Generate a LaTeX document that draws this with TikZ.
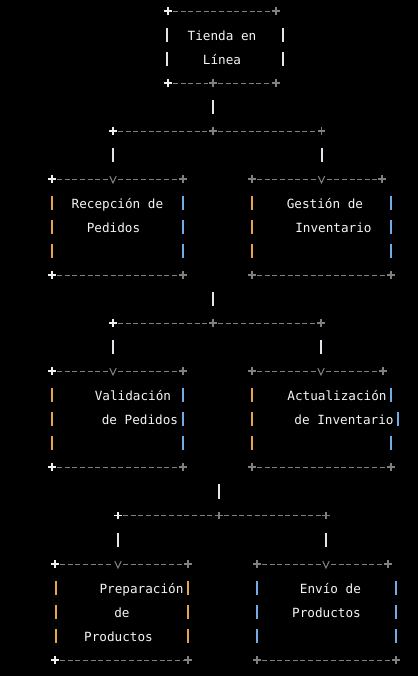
\documentclass[tikz,border=0pt]{standalone}
\usepackage{fontspec}
\newfontfamily\termfont{DejaVu Sans Mono}
\usepackage{xcolor}
\usepackage{tikz}

\definecolor{termbg}{RGB}{0,0,0}
\definecolor{termtext}{RGB}{245,245,245}
\definecolor{dashgrey}{RGB}{128,128,128}
\definecolor{crossgrey}{RGB}{125,128,132}
\definecolor{crosswhite}{RGB}{240,240,240}
\definecolor{pipeorange}{RGB}{228,165,75}
\definecolor{pipeblue}{RGB}{115,172,228}
\definecolor{pipewhite}{RGB}{225,230,236}

\begin{document}
\begin{tikzpicture}[x=0.75pt,y=0.75pt,yscale=-1,xscale=1,
  boxtext/.style={font=\termfont\fontsize{9.5}{11}\selectfont, text=termtext, inner sep=0pt, anchor=base},
  dashrule/.style={draw=dashgrey, line width=0.75pt, dash pattern=on 3.75pt off 1.99pt, shorten <=3.8pt, shorten >=3.8pt},
  sidebar/.style={line width=1.5pt, dash pattern=on 10.5pt off 7.5pt, shorten <=12.75pt, shorten >=12.75pt},
  pipebar/.style={draw=pipewhite, line width=1.5pt, shorten <=12.75pt, shorten >=12.75pt},
  pluspic/.pic={\draw[line width=1.1pt] (-3.6,0) -- (3.6,0) (0,-3.6) -- (0,3.6);},
  vpic/.pic={\draw[line width=0.8pt] (-3.2,3) -- (0,-4) -- (3.2,3);}
]
%set diagram size
\fill[termbg] (0,0) rectangle (418,676);
\useasboundingbox (0,0) rectangle (418,676);

%Connector points
\coordinate (tienda-s) at (213,83);
\coordinate (fork1) at (213,131);
\coordinate (fork1-w) at (113,131);
\coordinate (fork1-e) at (321.5,131);
\coordinate (recepcion-n) at (113,179);
\coordinate (gestion-n) at (321.5,179);
\coordinate (join1) at (213,275);
\coordinate (fork2) at (213,323);
\coordinate (fork2-w) at (113,323);
\coordinate (fork2-e) at (321,323);
\coordinate (validacion-n) at (113,371);
\coordinate (actualiza-n) at (321,371);
\coordinate (join2) at (219,467);
\coordinate (fork3) at (219,515.5);
\coordinate (fork3-w) at (118,515.5);
\coordinate (fork3-e) at (326,515.5);
\coordinate (prepara-n) at (118,564);
\coordinate (envio-n) at (326,564);

%Box: Tienda en Linea
\draw[dashrule] (168,11) -- (276,11);
\draw[dashrule] (168,83) -- (tienda-s);
\draw[dashrule] (tienda-s) -- (276,83);
\draw[sidebar, draw=pipewhite] (167,11) -- (167,83);
\draw[sidebar, draw=pipewhite] (283,11) -- (283,83);
\pic[color=crosswhite] at (168,11) {pluspic};
\pic[color=crossgrey] at (276,11) {pluspic};
\pic[color=crosswhite] at (168,83) {pluspic};
\pic[color=crossgrey] at (tienda-s) {pluspic};
\pic[color=crossgrey] at (276,83) {pluspic};

%Branch 1
\draw[pipebar] (tienda-s) -- (fork1);
\draw[dashrule] (fork1-w) -- (fork1);
\draw[dashrule] (fork1) -- (fork1-e);
\pic[color=crosswhite] at (fork1-w) {pluspic};
\pic[color=crossgrey] at (fork1) {pluspic};
\pic[color=crossgrey] at (fork1-e) {pluspic};
\draw[pipebar] (fork1-w) -- (recepcion-n);
\draw[pipebar] (fork1-e) -- (gestion-n);

%Box: Recepcion de Pedidos
\draw[dashrule] (52,179) -- (recepcion-n);
\draw[dashrule] (recepcion-n) -- (183,179);
\draw[dashrule] (52,275) -- (183,275);
\draw[sidebar, draw=pipeorange] (52,179) -- (52,275);
\draw[sidebar, draw=pipeblue] (183,179) -- (183,275);
\pic[color=crosswhite] at (52,179) {pluspic};
\pic[color=dashgrey] at (recepcion-n) {vpic};
\pic[color=crossgrey] at (183,179) {pluspic};
\pic[color=crosswhite] at (52,275) {pluspic};
\pic[color=crossgrey] at (183,275) {pluspic};

%Box: Gestion de Inventario
\draw[dashrule] (252,179) -- (gestion-n);
\draw[dashrule] (gestion-n) -- (382,179);
\draw[dashrule] (252,275) -- (391,275);
\draw[sidebar, draw=pipeorange] (252,179) -- (252,275);
\draw[sidebar, draw=pipeblue] (391,179) -- (391,275);
\pic[color=crossgrey] at (252,179) {pluspic};
\pic[color=dashgrey] at (gestion-n) {vpic};
\pic[color=crossgrey] at (382,179) {pluspic};
\pic[color=crossgrey] at (252,275) {pluspic};
\pic[color=crossgrey] at (391,275) {pluspic};

%Branch 2
\draw[pipebar] (join1) -- (fork2);
\draw[dashrule] (fork2-w) -- (fork2);
\draw[dashrule] (fork2) -- (fork2-e);
\pic[color=crosswhite] at (fork2-w) {pluspic};
\pic[color=crossgrey] at (fork2) {pluspic};
\pic[color=crossgrey] at (fork2-e) {pluspic};
\draw[pipebar] (fork2-w) -- (validacion-n);
\draw[pipebar] (fork2-e) -- (actualiza-n);

%Box: Validacion de Pedidos
\draw[dashrule] (52,371) -- (validacion-n);
\draw[dashrule] (validacion-n) -- (183,371);
\draw[dashrule] (52,467) -- (183,467);
\draw[sidebar, draw=pipeorange] (52,371) -- (52,467);
\draw[sidebar, draw=pipeblue] (183,371) -- (183,467);
\pic[color=crosswhite] at (52,371) {pluspic};
\pic[color=dashgrey] at (validacion-n) {vpic};
\pic[color=crossgrey] at (183,371) {pluspic};
\pic[color=crosswhite] at (52,467) {pluspic};
\pic[color=crossgrey] at (183,467) {pluspic};

%Box: Actualizacion de Inventario
\draw[dashrule] (252,371) -- (actualiza-n);
\draw[dashrule] (actualiza-n) -- (383,371);
\draw[dashrule] (252,467) -- (391,467);
\draw[sidebar, draw=pipeorange] (252,371) -- (252,467);
\draw[pipebar, draw=pipeblue] (391,371) -- (391,419);
\draw[pipebar, draw=pipeblue] (398,395) -- (398,443);
\draw[pipebar, draw=pipeblue] (391,419) -- (391,467);
\pic[color=crossgrey] at (252,371) {pluspic};
\pic[color=dashgrey] at (actualiza-n) {vpic};
\pic[color=crossgrey] at (383,371) {pluspic};
\pic[color=crossgrey] at (252,467) {pluspic};
\pic[color=crossgrey] at (391,467) {pluspic};

%Branch 3
\draw[pipebar] (join2) -- (fork3);
\draw[dashrule] (fork3-w) -- (fork3);
\draw[dashrule] (fork3) -- (fork3-e);
\pic[color=crosswhite] at (fork3-w) {pluspic};
\pic[color=crossgrey] at (fork3) {pluspic};
\pic[color=crossgrey] at (fork3-e) {pluspic};
\draw[pipebar] (fork3-w) -- (prepara-n);
\draw[pipebar] (fork3-e) -- (envio-n);

%Box: Preparacion de Productos
\draw[dashrule] (55,564) -- (prepara-n);
\draw[dashrule] (prepara-n) -- (188,564);
\draw[dashrule] (55,660) -- (188,660);
\draw[sidebar, draw=pipeorange] (56,564) -- (56,660);
\draw[sidebar, draw=pipeorange] (188,564) -- (188,660);
\pic[color=crosswhite] at (55,564) {pluspic};
\pic[color=dashgrey] at (prepara-n) {vpic};
\pic[color=crossgrey] at (188,564) {pluspic};
\pic[color=crosswhite] at (55,660) {pluspic};
\pic[color=crossgrey] at (188,660) {pluspic};

%Box: Envio de Productos
\draw[dashrule] (257,564) -- (envio-n);
\draw[dashrule] (envio-n) -- (388,564);
\draw[dashrule] (257,660) -- (396,660);
\draw[sidebar, draw=pipeblue] (257,564) -- (257,660);
\draw[sidebar, draw=pipeblue] (396,564) -- (396,660);
\pic[color=crossgrey] at (257,564) {pluspic};
\pic[color=dashgrey] at (envio-n) {vpic};
\pic[color=crossgrey] at (388,564) {pluspic};
\pic[color=crossgrey] at (257,660) {pluspic};
\pic[color=crossgrey] at (396,660) {pluspic};

% Text Nodes
\node[boxtext] (tienda1) at (222,40) {Tienda en};
\node[boxtext] (tienda2) at (222,64) {Línea};
\node[boxtext] (recepcion1) at (117.5,208) {Recepción de};
\node[boxtext] (recepcion2) at (113.5,232) {Pedidos};
\node[boxtext] (gestion1) at (325,208) {Gestión de};
\node[boxtext] (gestion2) at (333.5,232) {Inventario};
\node[boxtext] (validacion1) at (133,400) {Validación};
\node[boxtext] (validacion2) at (140,424) {de Pedidos};
\node[boxtext] (actualiza1) at (337,400) {Actualización};
\node[boxtext] (actualiza2) at (344,424) {de Inventario};
\node[boxtext] (prepara1) at (141.5,593) {Preparación};
\node[boxtext] (prepara2) at (122,617) {de};
\node[boxtext] (prepara3) at (118.5,641) {Productos};
\node[boxtext] (envio1) at (330.5,593) {Envío de};
\node[boxtext] (envio2) at (326.5,617) {Productos};

\end{tikzpicture}
\end{document}
